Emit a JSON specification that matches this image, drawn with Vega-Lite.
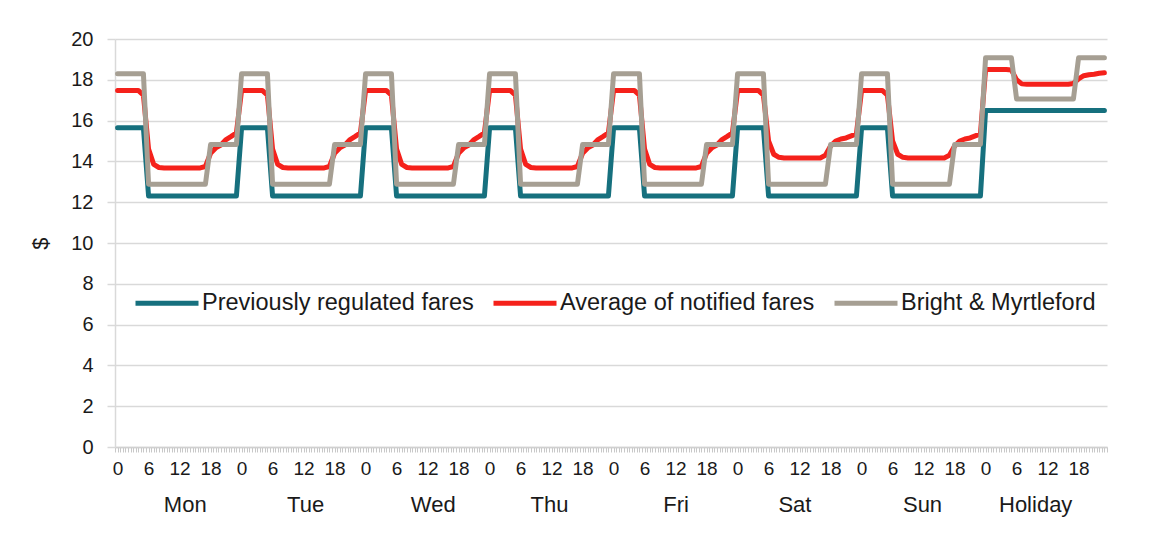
{
"$schema":"https://vega.github.io/schema/vega-lite/v6.json",
"width":992,"height":408,
"autosize":{"type":"none"},
"padding":{"left":115,"top":39,"right":59,"bottom":88},
"background":"white",
"config":{"view":{"stroke":null},"font":"Liberation Sans"},
"data":{"values":[
{"h":0,"P":15.65,"A":17.48,"B":18.3},{"h":1,"P":15.65,"A":17.48,"B":18.3},{"h":2,"P":15.65,"A":17.48,"B":18.3},{"h":3,"P":15.65,"A":17.48,"B":18.3},{"h":4,"P":15.65,"A":17.48,"B":18.3},{"h":5,"P":15.65,"A":17.25,"B":18.3},
{"h":6,"P":12.3,"A":14.6,"B":12.88},{"h":7,"P":12.3,"A":13.85,"B":12.88},{"h":8,"P":12.3,"A":13.7,"B":12.88},{"h":9,"P":12.3,"A":13.68,"B":12.88},{"h":10,"P":12.3,"A":13.68,"B":12.88},{"h":11,"P":12.3,"A":13.68,"B":12.88},
{"h":12,"P":12.3,"A":13.68,"B":12.88},{"h":13,"P":12.3,"A":13.68,"B":12.88},{"h":14,"P":12.3,"A":13.68,"B":12.88},{"h":15,"P":12.3,"A":13.68,"B":12.88},{"h":16,"P":12.3,"A":13.68,"B":12.88},{"h":17,"P":12.3,"A":13.75,"B":12.88},
{"h":18,"P":12.3,"A":14.4,"B":14.83},{"h":19,"P":12.3,"A":14.66,"B":14.83},{"h":20,"P":12.3,"A":14.8,"B":14.83},{"h":21,"P":12.3,"A":15.07,"B":14.83},{"h":22,"P":12.3,"A":15.23,"B":14.83},{"h":23,"P":12.3,"A":15.4,"B":14.83},
{"h":24,"P":15.65,"A":17.48,"B":18.3},{"h":25,"P":15.65,"A":17.48,"B":18.3},{"h":26,"P":15.65,"A":17.48,"B":18.3},{"h":27,"P":15.65,"A":17.48,"B":18.3},{"h":28,"P":15.65,"A":17.48,"B":18.3},{"h":29,"P":15.65,"A":17.25,"B":18.3},
{"h":30,"P":12.3,"A":14.6,"B":12.88},{"h":31,"P":12.3,"A":13.85,"B":12.88},{"h":32,"P":12.3,"A":13.7,"B":12.88},{"h":33,"P":12.3,"A":13.68,"B":12.88},{"h":34,"P":12.3,"A":13.68,"B":12.88},{"h":35,"P":12.3,"A":13.68,"B":12.88},
{"h":36,"P":12.3,"A":13.68,"B":12.88},{"h":37,"P":12.3,"A":13.68,"B":12.88},{"h":38,"P":12.3,"A":13.68,"B":12.88},{"h":39,"P":12.3,"A":13.68,"B":12.88},{"h":40,"P":12.3,"A":13.68,"B":12.88},{"h":41,"P":12.3,"A":13.75,"B":12.88},
{"h":42,"P":12.3,"A":14.4,"B":14.83},{"h":43,"P":12.3,"A":14.66,"B":14.83},{"h":44,"P":12.3,"A":14.8,"B":14.83},{"h":45,"P":12.3,"A":15.07,"B":14.83},{"h":46,"P":12.3,"A":15.23,"B":14.83},{"h":47,"P":12.3,"A":15.4,"B":14.83},
{"h":48,"P":15.65,"A":17.48,"B":18.3},{"h":49,"P":15.65,"A":17.48,"B":18.3},{"h":50,"P":15.65,"A":17.48,"B":18.3},{"h":51,"P":15.65,"A":17.48,"B":18.3},{"h":52,"P":15.65,"A":17.48,"B":18.3},{"h":53,"P":15.65,"A":17.25,"B":18.3},
{"h":54,"P":12.3,"A":14.6,"B":12.88},{"h":55,"P":12.3,"A":13.85,"B":12.88},{"h":56,"P":12.3,"A":13.7,"B":12.88},{"h":57,"P":12.3,"A":13.68,"B":12.88},{"h":58,"P":12.3,"A":13.68,"B":12.88},{"h":59,"P":12.3,"A":13.68,"B":12.88},
{"h":60,"P":12.3,"A":13.68,"B":12.88},{"h":61,"P":12.3,"A":13.68,"B":12.88},{"h":62,"P":12.3,"A":13.68,"B":12.88},{"h":63,"P":12.3,"A":13.68,"B":12.88},{"h":64,"P":12.3,"A":13.68,"B":12.88},{"h":65,"P":12.3,"A":13.75,"B":12.88},
{"h":66,"P":12.3,"A":14.4,"B":14.83},{"h":67,"P":12.3,"A":14.66,"B":14.83},{"h":68,"P":12.3,"A":14.8,"B":14.83},{"h":69,"P":12.3,"A":15.07,"B":14.83},{"h":70,"P":12.3,"A":15.23,"B":14.83},{"h":71,"P":12.3,"A":15.4,"B":14.83},
{"h":72,"P":15.65,"A":17.48,"B":18.3},{"h":73,"P":15.65,"A":17.48,"B":18.3},{"h":74,"P":15.65,"A":17.48,"B":18.3},{"h":75,"P":15.65,"A":17.48,"B":18.3},{"h":76,"P":15.65,"A":17.48,"B":18.3},{"h":77,"P":15.65,"A":17.25,"B":18.3},
{"h":78,"P":12.3,"A":14.6,"B":12.88},{"h":79,"P":12.3,"A":13.85,"B":12.88},{"h":80,"P":12.3,"A":13.7,"B":12.88},{"h":81,"P":12.3,"A":13.68,"B":12.88},{"h":82,"P":12.3,"A":13.68,"B":12.88},{"h":83,"P":12.3,"A":13.68,"B":12.88},
{"h":84,"P":12.3,"A":13.68,"B":12.88},{"h":85,"P":12.3,"A":13.68,"B":12.88},{"h":86,"P":12.3,"A":13.68,"B":12.88},{"h":87,"P":12.3,"A":13.68,"B":12.88},{"h":88,"P":12.3,"A":13.68,"B":12.88},{"h":89,"P":12.3,"A":13.75,"B":12.88},
{"h":90,"P":12.3,"A":14.4,"B":14.83},{"h":91,"P":12.3,"A":14.66,"B":14.83},{"h":92,"P":12.3,"A":14.8,"B":14.83},{"h":93,"P":12.3,"A":15.07,"B":14.83},{"h":94,"P":12.3,"A":15.23,"B":14.83},{"h":95,"P":12.3,"A":15.4,"B":14.83},
{"h":96,"P":15.65,"A":17.48,"B":18.3},{"h":97,"P":15.65,"A":17.48,"B":18.3},{"h":98,"P":15.65,"A":17.48,"B":18.3},{"h":99,"P":15.65,"A":17.48,"B":18.3},{"h":100,"P":15.65,"A":17.48,"B":18.3},{"h":101,"P":15.65,"A":17.25,"B":18.3},
{"h":102,"P":12.3,"A":14.6,"B":12.88},{"h":103,"P":12.3,"A":13.85,"B":12.88},{"h":104,"P":12.3,"A":13.7,"B":12.88},{"h":105,"P":12.3,"A":13.68,"B":12.88},{"h":106,"P":12.3,"A":13.68,"B":12.88},{"h":107,"P":12.3,"A":13.68,"B":12.88},
{"h":108,"P":12.3,"A":13.68,"B":12.88},{"h":109,"P":12.3,"A":13.68,"B":12.88},{"h":110,"P":12.3,"A":13.68,"B":12.88},{"h":111,"P":12.3,"A":13.68,"B":12.88},{"h":112,"P":12.3,"A":13.68,"B":12.88},{"h":113,"P":12.3,"A":13.75,"B":12.88},
{"h":114,"P":12.3,"A":14.4,"B":14.83},{"h":115,"P":12.3,"A":14.66,"B":14.83},{"h":116,"P":12.3,"A":14.8,"B":14.83},{"h":117,"P":12.3,"A":15.07,"B":14.83},{"h":118,"P":12.3,"A":15.23,"B":14.83},{"h":119,"P":12.3,"A":15.4,"B":14.83},
{"h":120,"P":15.65,"A":17.48,"B":18.3},{"h":121,"P":15.65,"A":17.48,"B":18.3},{"h":122,"P":15.65,"A":17.48,"B":18.3},{"h":123,"P":15.65,"A":17.48,"B":18.3},{"h":124,"P":15.65,"A":17.48,"B":18.3},{"h":125,"P":15.65,"A":17.25,"B":18.3},
{"h":126,"P":12.3,"A":15.0,"B":12.88},{"h":127,"P":12.3,"A":14.35,"B":12.88},{"h":128,"P":12.3,"A":14.2,"B":12.88},{"h":129,"P":12.3,"A":14.17,"B":12.88},{"h":130,"P":12.3,"A":14.17,"B":12.88},{"h":131,"P":12.3,"A":14.17,"B":12.88},
{"h":132,"P":12.3,"A":14.17,"B":12.88},{"h":133,"P":12.3,"A":14.17,"B":12.88},{"h":134,"P":12.3,"A":14.17,"B":12.88},{"h":135,"P":12.3,"A":14.17,"B":12.88},{"h":136,"P":12.3,"A":14.17,"B":12.88},{"h":137,"P":12.3,"A":14.3,"B":12.88},
{"h":138,"P":12.3,"A":14.75,"B":14.83},{"h":139,"P":12.3,"A":15.0,"B":14.83},{"h":140,"P":12.3,"A":15.1,"B":14.83},{"h":141,"P":12.3,"A":15.15,"B":14.83},{"h":142,"P":12.3,"A":15.25,"B":14.83},{"h":143,"P":12.3,"A":15.35,"B":14.83},
{"h":144,"P":15.65,"A":17.48,"B":18.3},{"h":145,"P":15.65,"A":17.48,"B":18.3},{"h":146,"P":15.65,"A":17.48,"B":18.3},{"h":147,"P":15.65,"A":17.48,"B":18.3},{"h":148,"P":15.65,"A":17.48,"B":18.3},{"h":149,"P":15.65,"A":17.25,"B":18.3},
{"h":150,"P":12.3,"A":15.0,"B":12.88},{"h":151,"P":12.3,"A":14.35,"B":12.88},{"h":152,"P":12.3,"A":14.2,"B":12.88},{"h":153,"P":12.3,"A":14.17,"B":12.88},{"h":154,"P":12.3,"A":14.17,"B":12.88},{"h":155,"P":12.3,"A":14.17,"B":12.88},
{"h":156,"P":12.3,"A":14.17,"B":12.88},{"h":157,"P":12.3,"A":14.17,"B":12.88},{"h":158,"P":12.3,"A":14.17,"B":12.88},{"h":159,"P":12.3,"A":14.17,"B":12.88},{"h":160,"P":12.3,"A":14.17,"B":12.88},{"h":161,"P":12.3,"A":14.3,"B":12.88},
{"h":162,"P":12.3,"A":14.75,"B":14.83},{"h":163,"P":12.3,"A":15.0,"B":14.83},{"h":164,"P":12.3,"A":15.1,"B":14.83},{"h":165,"P":12.3,"A":15.15,"B":14.83},{"h":166,"P":12.3,"A":15.25,"B":14.83},{"h":167,"P":12.3,"A":15.35,"B":14.83},
{"h":168,"P":16.5,"A":18.5,"B":19.08},{"h":169,"P":16.5,"A":18.5,"B":19.08},{"h":170,"P":16.5,"A":18.5,"B":19.08},{"h":171,"P":16.5,"A":18.5,"B":19.08},{"h":172,"P":16.5,"A":18.5,"B":19.08},{"h":173,"P":16.5,"A":18.48,"B":19.08},
{"h":174,"P":16.5,"A":18.0,"B":17.06},{"h":175,"P":16.5,"A":17.8,"B":17.06},{"h":176,"P":16.5,"A":17.78,"B":17.06},{"h":177,"P":16.5,"A":17.78,"B":17.06},{"h":178,"P":16.5,"A":17.78,"B":17.06},{"h":179,"P":16.5,"A":17.78,"B":17.06},
{"h":180,"P":16.5,"A":17.78,"B":17.06},{"h":181,"P":16.5,"A":17.78,"B":17.06},{"h":182,"P":16.5,"A":17.78,"B":17.06},{"h":183,"P":16.5,"A":17.78,"B":17.06},{"h":184,"P":16.5,"A":17.78,"B":17.06},{"h":185,"P":16.5,"A":17.82,"B":17.06},
{"h":186,"P":16.5,"A":18.05,"B":19.08},{"h":187,"P":16.5,"A":18.2,"B":19.08},{"h":188,"P":16.5,"A":18.25,"B":19.08},{"h":189,"P":16.5,"A":18.27,"B":19.08},{"h":190,"P":16.5,"A":18.32,"B":19.08},{"h":191,"P":16.5,"A":18.34,"B":19.08}
]},
"transform":[
{"fold":["P","A","B"],"as":["k","fare"]},
{"lookup":"k","from":{"data":{"values":[{"k":"P","name":"Previously regulated fares"},{"k":"A","name":"Average of notified fares"},{"k":"B","name":"Bright & Myrtleford"}]},"key":"k","fields":["name"]}}
],
"encoding":{
"y":{"field":"fare","type":"quantitative","scale":{"domain":[0,20],"nice":false},
"axis":{"title":"$","values":[0,2,4,6,8,10,12,14,16,18,20],"grid":true,"gridColor":"#d9d9d9","gridWidth":1.5,"domainColor":"#d9d9d9","domainWidth":1.5,"tickColor":"#d9d9d9","tickWidth":1.5,"tickSize":8,"labelFontSize":20,"labelPadding":14,"labelColor":"#1a1a1a","titleFontSize":22,"titleFontWeight":"normal","titlePadding":18,"titleColor":"#1a1a1a"}}
},
"layer":[
{"mark":{"type":"line","strokeWidth":5,"strokeJoin":"round","strokeCap":"round"},
"encoding":{
"x":{"field":"h","type":"quantitative","scale":{"domain":[-0.5,191.5],"nice":false,"zero":false},
"axis":{"title":null,"tickCount":384,"labelExpr":"datum.value % 6 === 0 ? '' + (datum.value % 24) : ''","labelOverlap":false,"labelFlush":false,"labelBound":false,"labelFontSize":19,"labelColor":"#1a1a1a","labelPadding":7,"tickSize":5,"tickColor":"#c8c8c8","domainColor":"#d0d0d0","domainWidth":1.5,"grid":false}},
"color":{"field":"name","type":"nominal","scale":{"domain":["Previously regulated fares","Average of notified fares","Bright & Myrtleford"],"range":["#16707e","#f5211b","#a69f93"]},
"legend":{"title":null,"orient":"none","legendX":18,"legendY":230,"direction":"horizontal","symbolType":"stroke","symbolSize":3969,"symbolStrokeWidth":5,"labelFontSize":23.5,"labelOffset":1,"columnPadding":9,"labelLimit":500,"labelColor":"#1a1a1a","padding":0}}
}},
{"mark":{"type":"point","opacity":0},
"encoding":{
"x":{"field":"h","type":"quantitative","scale":{"domain":[-0.5,191.5],"nice":false,"zero":false},
"axis":{"title":null,"orient":"bottom","values":[13,36.3,61,83.5,108,131,155.7,177.6],"labelExpr":"['Mon','Tue','Wed','Thu','Fri','Sat','Sun','Holiday'][floor((datum.value+0.5)/24)]","domain":false,"ticks":false,"grid":false,"labelFontSize":22,"labelPadding":47,"labelColor":"#1a1a1a","labelOverlap":false,"labelFlush":false}}
}}
],
"resolve":{"axis":{"x":"independent"}}
}
